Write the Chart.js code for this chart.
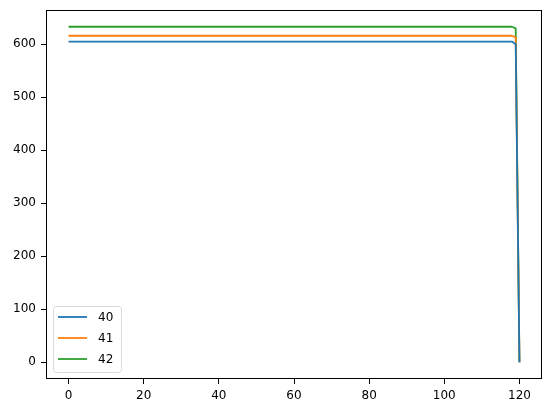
<!DOCTYPE html>
<html>
<head>
<meta charset="utf-8">
<script src="https://cdn.jsdelivr.net/npm/chart.js@4"></script>
<style>
  body { margin: 0; background: #fff; }
  canvas { display: block; }
</style>
</head>
<body>
<canvas id="chart" width="552" height="413"></canvas>
<script>
// data
const steps = [0, 118, 119, 120];
const series40 = [605, 605, 600, 0];
const series41 = [616, 616, 613, 0];
const series42 = [633, 633, 630, 0];
const seriesNames = ['40', '41', '42'];
const seriesColors = ['#1f77b4', '#ff7f0e', '#2ca02c'];
const xTicks = [0, 20, 40, 60, 80, 100, 120];
const yTicks = [0, 100, 200, 300, 400, 500, 600];

const FONT = '"DejaVu Sans", sans-serif';

function toPoints(values) {
    return steps.map((x, i) => ({ x: x, y: values[i] }));
}

// matplotlib style box around the axes
const framePlugin = {
    id: 'frame',
    afterDraw(chart) {
        const { ctx, chartArea: a } = chart;
        ctx.save();
        ctx.strokeStyle = '#000';
        ctx.lineWidth = 1;
        ctx.strokeRect(Math.round(a.left) + 0.5, Math.round(a.top) + 0.5,
            Math.round(a.right - a.left) - 1, Math.round(a.bottom - a.top) - 1);
        ctx.restore();
    }
};

// legend in the lower left corner of the plot
const insideLegend = {
    id: 'insideLegend',
    afterDraw(chart) {
        const { ctx, chartArea: a } = chart;
        const sets = chart.data.datasets;
        const rowH = 21;
        const w = 68, h = 66;
        const x0 = a.left + 7, y0 = a.bottom - 7 - h;
        ctx.save();
        ctx.beginPath();
        ctx.roundRect(x0 + 0.5, y0 + 0.5, w, h, 3);
        ctx.fillStyle = 'rgba(255,255,255,0.8)';
        ctx.fill();
        ctx.strokeStyle = '#d9d9d9';
        ctx.lineWidth = 1;
        ctx.stroke();
        ctx.font = '12px ' + FONT;
        ctx.textBaseline = 'middle';
        ctx.fillStyle = '#000';
        sets.forEach((ds, i) => {
            const y = y0 + 11 + i * rowH;
            ctx.beginPath();
            ctx.moveTo(x0 + 5, y);
            ctx.lineTo(x0 + 34, y);
            ctx.strokeStyle = ds.borderColor;
            ctx.lineWidth = 1.8;
            ctx.stroke();
            ctx.fillText(ds.label, x0 + 45, y + 1);
        });
        ctx.restore();
    }
};

const ctx = document.getElementById('chart').getContext('2d');
new Chart(ctx, {
    type: 'line',
    data: {
        datasets: [series40, series41, series42].map((vals, i) => ({
            label: seriesNames[i],
            data: toPoints(vals),
            borderColor: seriesColors[i],
            backgroundColor: seriesColors[i],
            borderWidth: 1.8,
            pointRadius: 0,
            tension: 0,
            borderJoinStyle: 'round',
            borderCapStyle: 'butt'
        }))
    },
    options: {
        responsive: false,
        animation: false,
        layout: { padding: { top: 10, right: 10, left: 0, bottom: 0 } },
        plugins: {
            legend: { display: false },
            tooltip: { enabled: false }
        },
        scales: {
            x: {
                type: 'linear',
                min: -6,
                max: 126,
                afterBuildTicks: s => { s.ticks = xTicks.map(v => ({ value: v })); },
                afterFit: s => { s.height = 34; s.paddingLeft = 0; s.paddingRight = 0; },
                grid: { drawOnChartArea: false, tickLength: 5, tickColor: '#000' },
                border: { display: false },
                ticks: { color: '#000', padding: 5, maxRotation: 0, font: { family: FONT, size: 12 } }
            },
            y: {
                type: 'linear',
                min: -31.65,
                max: 664.6,
                afterBuildTicks: s => { s.ticks = yTicks.map(v => ({ value: v })); },
                afterFit: s => { s.width = 46; s.paddingTop = 0; s.paddingBottom = 0; },
                grid: { drawOnChartArea: false, tickLength: 5, tickColor: '#000' },
                border: { display: false },
                ticks: { color: '#000', padding: 5, font: { family: FONT, size: 12 } }
            }
        }
    },
    plugins: [framePlugin, insideLegend]
});
</script>
</body>
</html>
